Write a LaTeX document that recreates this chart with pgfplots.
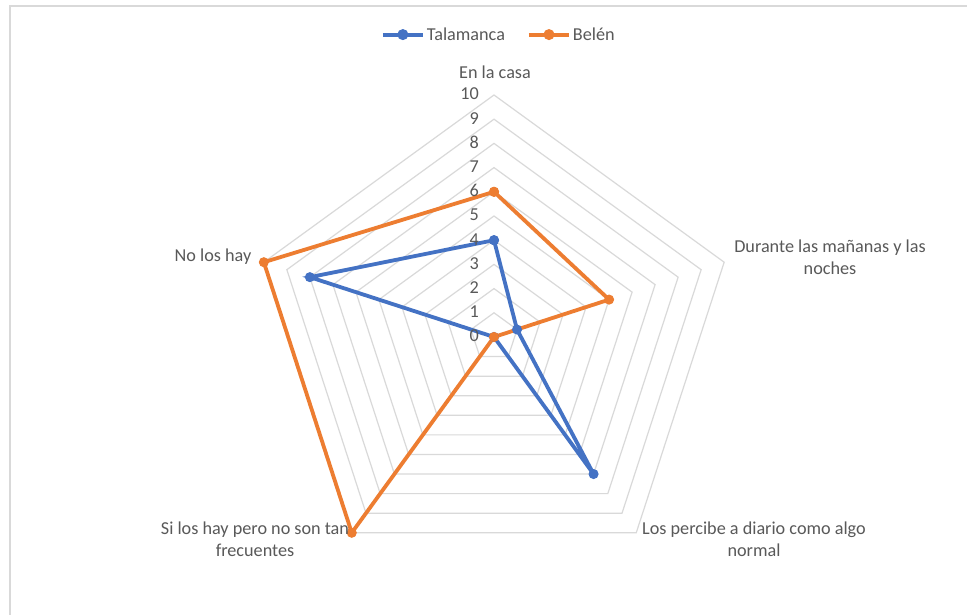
\documentclass[border=0pt]{standalone}
\usepackage{fontspec}
\setmainfont{Carlito}
\usepackage{pgfplots}
\usepackage{pgfplotstable}
\pgfplotsset{compat=1.18}

\definecolor{talcol}{HTML}{4472C4}
\definecolor{belcol}{HTML}{ED7D31}
\definecolor{gridcol}{HTML}{D9D9D9}
\definecolor{txtcol}{HTML}{595959}

% spoke angle (degrees) and score of each group
\pgfplotstableread{
ang tal bel
90   4  6
18   1  5
-54  7  0
-126 0  10
162  8  10
90   4  6
}\radar

\begin{document}
\begin{tikzpicture}[font=\fontsize{18.2bp}{22bp}\selectfont, text=txtcol]
\useasboundingbox (0,0) rectangle (967bp,615bp);
\fill[white] (0,0) rectangle (967bp,615bp);
\draw[gridcol, line width=1.5bp] (967bp,609bp) -- (10bp,609bp) -- (10bp,0);

\begin{axis}[
  at={(494bp,278bp)}, anchor=center,
  scale only axis, x=24.2bp, y=24.2bp,
  xmin=-11, xmax=11, ymin=-11, ymax=11,
  hide axis, clip=false,
  legend columns=2,
  legend style={at={(axis description cs:0.509,1.068)}, anchor=center,
    draw=none, fill=none, text=txtcol,
    font=\fontsize{18.2bp}{22bp}\selectfont,
    /tikz/every even column/.append style={column sep=20bp}},
  legend image code/.code={
    \draw[mark repeat=2, mark phase=2]
      plot coordinates {(0bp,0bp) (20bp,0bp) (40bp,0bp)};},
  legend image post style={line width=4bp, mark size=5bp},
]
% pentagonal grid rings
\pgfplotsinvokeforeach{1,...,10}{
  \draw[gridcol, line width=1.2bp]
    (axis cs:{#1*cos(90)},{#1*sin(90)}) --
    (axis cs:{#1*cos(18)},{#1*sin(18)}) --
    (axis cs:{#1*cos(-54)},{#1*sin(-54)}) --
    (axis cs:{#1*cos(-126)},{#1*sin(-126)}) --
    (axis cs:{#1*cos(162)},{#1*sin(162)}) -- cycle;
}
\addplot[talcol, line width=3.8bp, mark=*, mark size=4.5bp,
  mark options={solid, fill=talcol, line width=1bp}]
  table[x expr=\thisrow{tal}*cos(\thisrow{ang}), y expr=\thisrow{tal}*sin(\thisrow{ang})] {\radar};
\addlegendentry{Talamanca}
\addplot[belcol, line width=3.8bp, mark=*, mark size=4.5bp,
  mark options={solid, fill=belcol, line width=1bp}]
  table[x expr=\thisrow{bel}*cos(\thisrow{ang}), y expr=\thisrow{bel}*sin(\thisrow{ang})] {\radar};
\addlegendentry{Belén}
\end{axis}

% value scale along the top spoke
\foreach \k in {0,...,10}{
  \node[anchor=east, inner sep=0pt] at (479bp,{278bp+\k*24.2bp+1bp}) {\k};
}

% category labels
\node[align=center] at (495bp,543bp) {En la casa};
\node[align=center] at (830bp,358bp) {Durante las mañanas y las\\noches};
\node[align=center] at (754bp,76bp) {Los percibe a diario como algo\\normal};
\node[align=center] at (255bp,76bp) {Si los hay pero no son tan\\frecuentes};
\node[align=center] at (213bp,358bp) {No los hay};
\end{tikzpicture}
\end{document}
